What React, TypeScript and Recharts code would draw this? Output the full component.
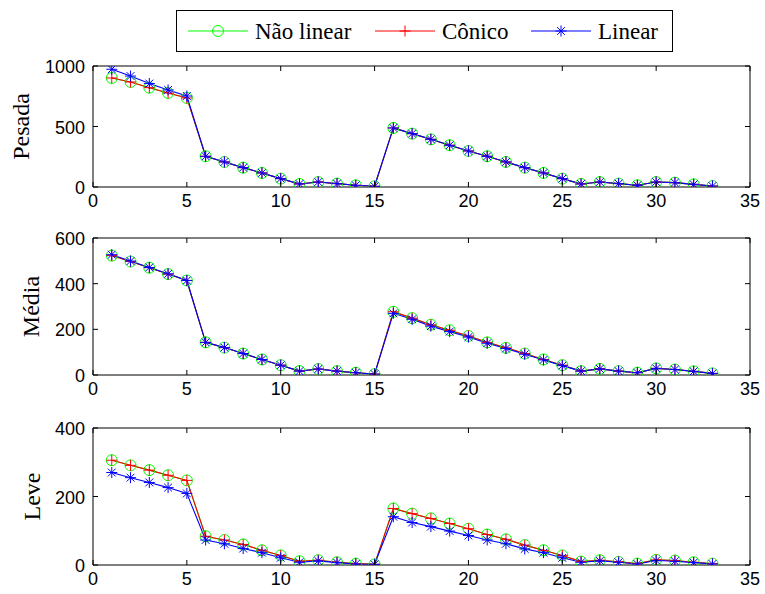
import React from 'react';
import { LineChart, Line, XAxis, YAxis, ReferenceArea } from 'recharts';

const xValues = [1,2,3,4,5,6,7,8,9,10,11,12,13,14,15,16,17,18,19,20,21,22,23,24,25,26,27,28,29,30,31,32,33];
const xTicks = [0,5,10,15,20,25,30,35];

const pesadaNaoLinear = [901,868,821,777,736,254,207,160,116,69,25,41,28,14,6,488,441,394,345,298,254,207,160,116,69,25,41,28,14,41,36,22,8];
const pesadaConico = [901,868,821,777,736,254,207,160,116,69,25,41,28,14,6,488,441,394,345,298,254,207,160,116,69,25,41,28,14,41,36,22,8];
const pesadaLinear = [973,917,855,802,752,254,207,160,116,69,25,41,28,14,6,488,441,394,345,298,254,207,160,116,69,25,41,28,14,41,36,22,8];
const pesadaTicks = [0,500,1000];

const mediaNaoLinear = [523,497,470,442,414,143,120,94,68,43,17,26,17,10,4,277,249,220,196,171,143,119,94,68,43,17,27,17,10,29,24,16,7];
const mediaConico = [523,497,470,442,414,143,120,94,68,43,17,26,17,10,4,277,249,220,196,171,143,119,94,68,43,17,27,17,10,29,24,16,7];
const mediaLinear = [527,499,471,443,414,143,120,94,68,43,17,26,17,10,4,270,244,214,190,166,139,116,91,66,41,17,27,17,10,29,24,16,7];
const mediaTicks = [0,200,400,600];

const leveNaoLinear = [306,291,277,262,247,84,73,60,43,28,11,14,8,4,2,165,150,136,121,106,89,75,58,43,28,10,14,9,4,15,13,8,4];
const leveConico = [306,291,277,262,247,84,73,60,43,28,11,14,8,4,2,165,150,136,121,106,89,75,58,43,28,10,14,9,4,15,13,8,4];
const leveLinear = [270,255,241,226,209,73,62,48,36,21,8,12,7,3,2,141,124,112,99,86,73,62,47,36,21,8,12,8,3,13,11,7,3];
const leveTicks = [0,200,400];

const seriesNames = ['Não linear', 'Cônico', 'Linear'];
const GREEN = '#00ff00';
const RED = '#ff0000';
const BLUE = '#0000ff';

const build = (a: number[], b: number[], c: number[]) =>
  xValues.map((x, i) => ({ x, nl: a[i], co: b[i], li: c[i] }));

const PLOT_W = 657;
const TICK_FONT = '"Liberation Sans", Arial, Helvetica, sans-serif';
const SERIF = '"Liberation Serif", "Times New Roman", serif';

const CircleDot = (p: any) => {
  if (p.cx == null || p.cy == null) return null;
  return <circle cx={p.cx} cy={p.cy} r={5.5} fill="none" stroke={GREEN} strokeWidth={1} />;
};
const PlusDot = (p: any) => {
  if (p.cx == null || p.cy == null) return null;
  const s = 5.5;
  return (
    <g stroke={RED} strokeWidth={1}>
      <line x1={p.cx - s} y1={p.cy} x2={p.cx + s} y2={p.cy} />
      <line x1={p.cx} y1={p.cy - s} x2={p.cx} y2={p.cy + s} />
    </g>
  );
};
const StarDot = (p: any) => {
  if (p.cx == null || p.cy == null) return null;
  const s = 5.5;
  const d = 3.9;
  return (
    <g stroke={BLUE} strokeWidth={1}>
      <line x1={p.cx - s} y1={p.cy} x2={p.cx + s} y2={p.cy} />
      <line x1={p.cx} y1={p.cy - s} x2={p.cx} y2={p.cy + s} />
      <line x1={p.cx - d} y1={p.cy - d} x2={p.cx + d} y2={p.cy + d} />
      <line x1={p.cx - d} y1={p.cy + d} x2={p.cx + d} y2={p.cy - d} />
    </g>
  );
};

const makeXTick = (plotH: number) => (p: any) => {
  const { x, y, payload } = p;
  return (
    <g>
      <line x1={x} y1={y} x2={x} y2={y - 5} stroke="#000" />
      <line x1={x} y1={y - plotH} x2={x} y2={y - plotH + 5} stroke="#000" />
      <text x={x} y={y + 13.5} textAnchor="middle" dominantBaseline="central" fontFamily={TICK_FONT} fontSize={18} fill="#000">
        {payload.value}
      </text>
    </g>
  );
};

const YTick = (p: any) => {
  const { x, y, payload } = p;
  return (
    <g>
      <line x1={x} y1={y} x2={x + 5} y2={y} stroke="#000" />
      <line x1={x + PLOT_W} y1={y} x2={x + PLOT_W - 5} y2={y} stroke="#000" />
      <text x={x - 8} y={y + 1} textAnchor="end" dominantBaseline="central" fontFamily={TICK_FONT} fontSize={18} fill="#000">
        {payload.value}
      </text>
    </g>
  );
};

const YLabel = (p: any) => {
  const vb = p.viewBox || {};
  const bx = p.baseX;
  const cy = (vb.y || 0) + (vb.height || 0) / 2;
  return (
    <text x={bx} y={cy} transform={`rotate(-90 ${bx} ${cy})`} textAnchor="middle" fontFamily={SERIF} fontSize={24} fill="#000">
      {p.value}
    </text>
  );
};

type Panel = {
  label: string;
  data: any[];
  ticks: number[];
  top: number;
  marginTop: number;
  plotH: number;
  labelX: number;
};

const panels: Panel[] = [
  { label: 'Pesada', data: build(pesadaNaoLinear, pesadaConico, pesadaLinear), ticks: pesadaTicks, top: 0, marginTop: 66, plotH: 121, labelX: 29 },
  { label: 'Média', data: build(mediaNaoLinear, mediaConico, mediaLinear), ticks: mediaTicks, top: 212, marginTop: 26, plotH: 137, labelX: 39 },
  { label: 'Leve', data: build(leveNaoLinear, leveConico, leveLinear), ticks: leveTicks, top: 400, marginTop: 28, plotH: 137, labelX: 40 },
];

const PanelChart = ({ panel }: { panel: Panel }) => {
  const yMax = panel.ticks[panel.ticks.length - 1];
  const xAxisH = 25;
  const h = panel.marginTop + panel.plotH + xAxisH;
  return (
    <div style={{ position: 'absolute', left: 0, top: panel.top, width: 765, height: h }}>
      <LineChart width={765} height={h} data={panel.data} margin={{ top: panel.marginTop, right: 15, bottom: 0, left: 0 }} style={{ overflow: 'visible' }}>
        <XAxis
          dataKey="x"
          type="number"
          domain={[0, 35]}
          ticks={xTicks}
          interval={0}
          height={xAxisH}
          axisLine={false}
          tickLine={false}
          tickSize={0}
          tickMargin={0}
          tick={makeXTick(panel.plotH)}
          allowDataOverflow
        />
        <YAxis
          type="number"
          domain={[0, yMax]}
          ticks={panel.ticks}
          interval={0}
          width={93}
          axisLine={false}
          tickLine={false}
          tickSize={0}
          tickMargin={0}
          tick={YTick}
          allowDataOverflow
          label={<YLabel value={panel.label} baseX={panel.labelX} />}
        />
        <ReferenceArea x1={0} x2={35} y1={0} y2={yMax} fill="none" fillOpacity={0} stroke="#000" strokeWidth={1} ifOverflow="visible" />
        <Line dataKey="nl" name={seriesNames[0]} stroke={GREEN} strokeWidth={1.1} dot={<CircleDot />} isAnimationActive={false} />
        <Line dataKey="co" name={seriesNames[1]} stroke={RED} strokeWidth={1.1} dot={<PlusDot />} isAnimationActive={false} />
        <Line dataKey="li" name={seriesNames[2]} stroke={BLUE} strokeWidth={1.1} dot={<StarDot />} isAnimationActive={false} />
      </LineChart>
    </div>
  );
};

const LegendBox = () => {
  const entries = [
    { name: seriesNames[0], color: GREEN, x0: 12, tx: 79, Mark: CircleDot },
    { name: seriesNames[1], color: RED, x0: 199, tx: 266, Mark: PlusDot },
    { name: seriesNames[2], color: BLUE, x0: 355, tx: 422, Mark: StarDot },
  ];
  return (
    <div style={{ position: 'absolute', left: 176, top: 10, width: 497, height: 42 }}>
      <svg width={497} height={42}>
        <rect x={0.5} y={0.5} width={496} height={41} fill="#fff" stroke="#000" strokeWidth={1} />
        {entries.map((e) => (
          <g key={e.name}>
            <line x1={e.x0} y1={21} x2={e.x0 + 60} y2={21} stroke={e.color} strokeWidth={1} />
            <e.Mark cx={e.x0 + 30} cy={21} />
            <text x={e.tx} y={29} fontFamily={SERIF} fontSize={23} fill="#000">
              {e.name}
            </text>
          </g>
        ))}
      </svg>
    </div>
  );
};

export default function App() {
  return (
    <div style={{ position: 'absolute', left: 0, top: 0, width: 765, height: 594, background: '#fff' }}>
      {panels.map((p) => (
        <PanelChart key={p.label} panel={p} />
      ))}
      <LegendBox />
    </div>
  );
}
